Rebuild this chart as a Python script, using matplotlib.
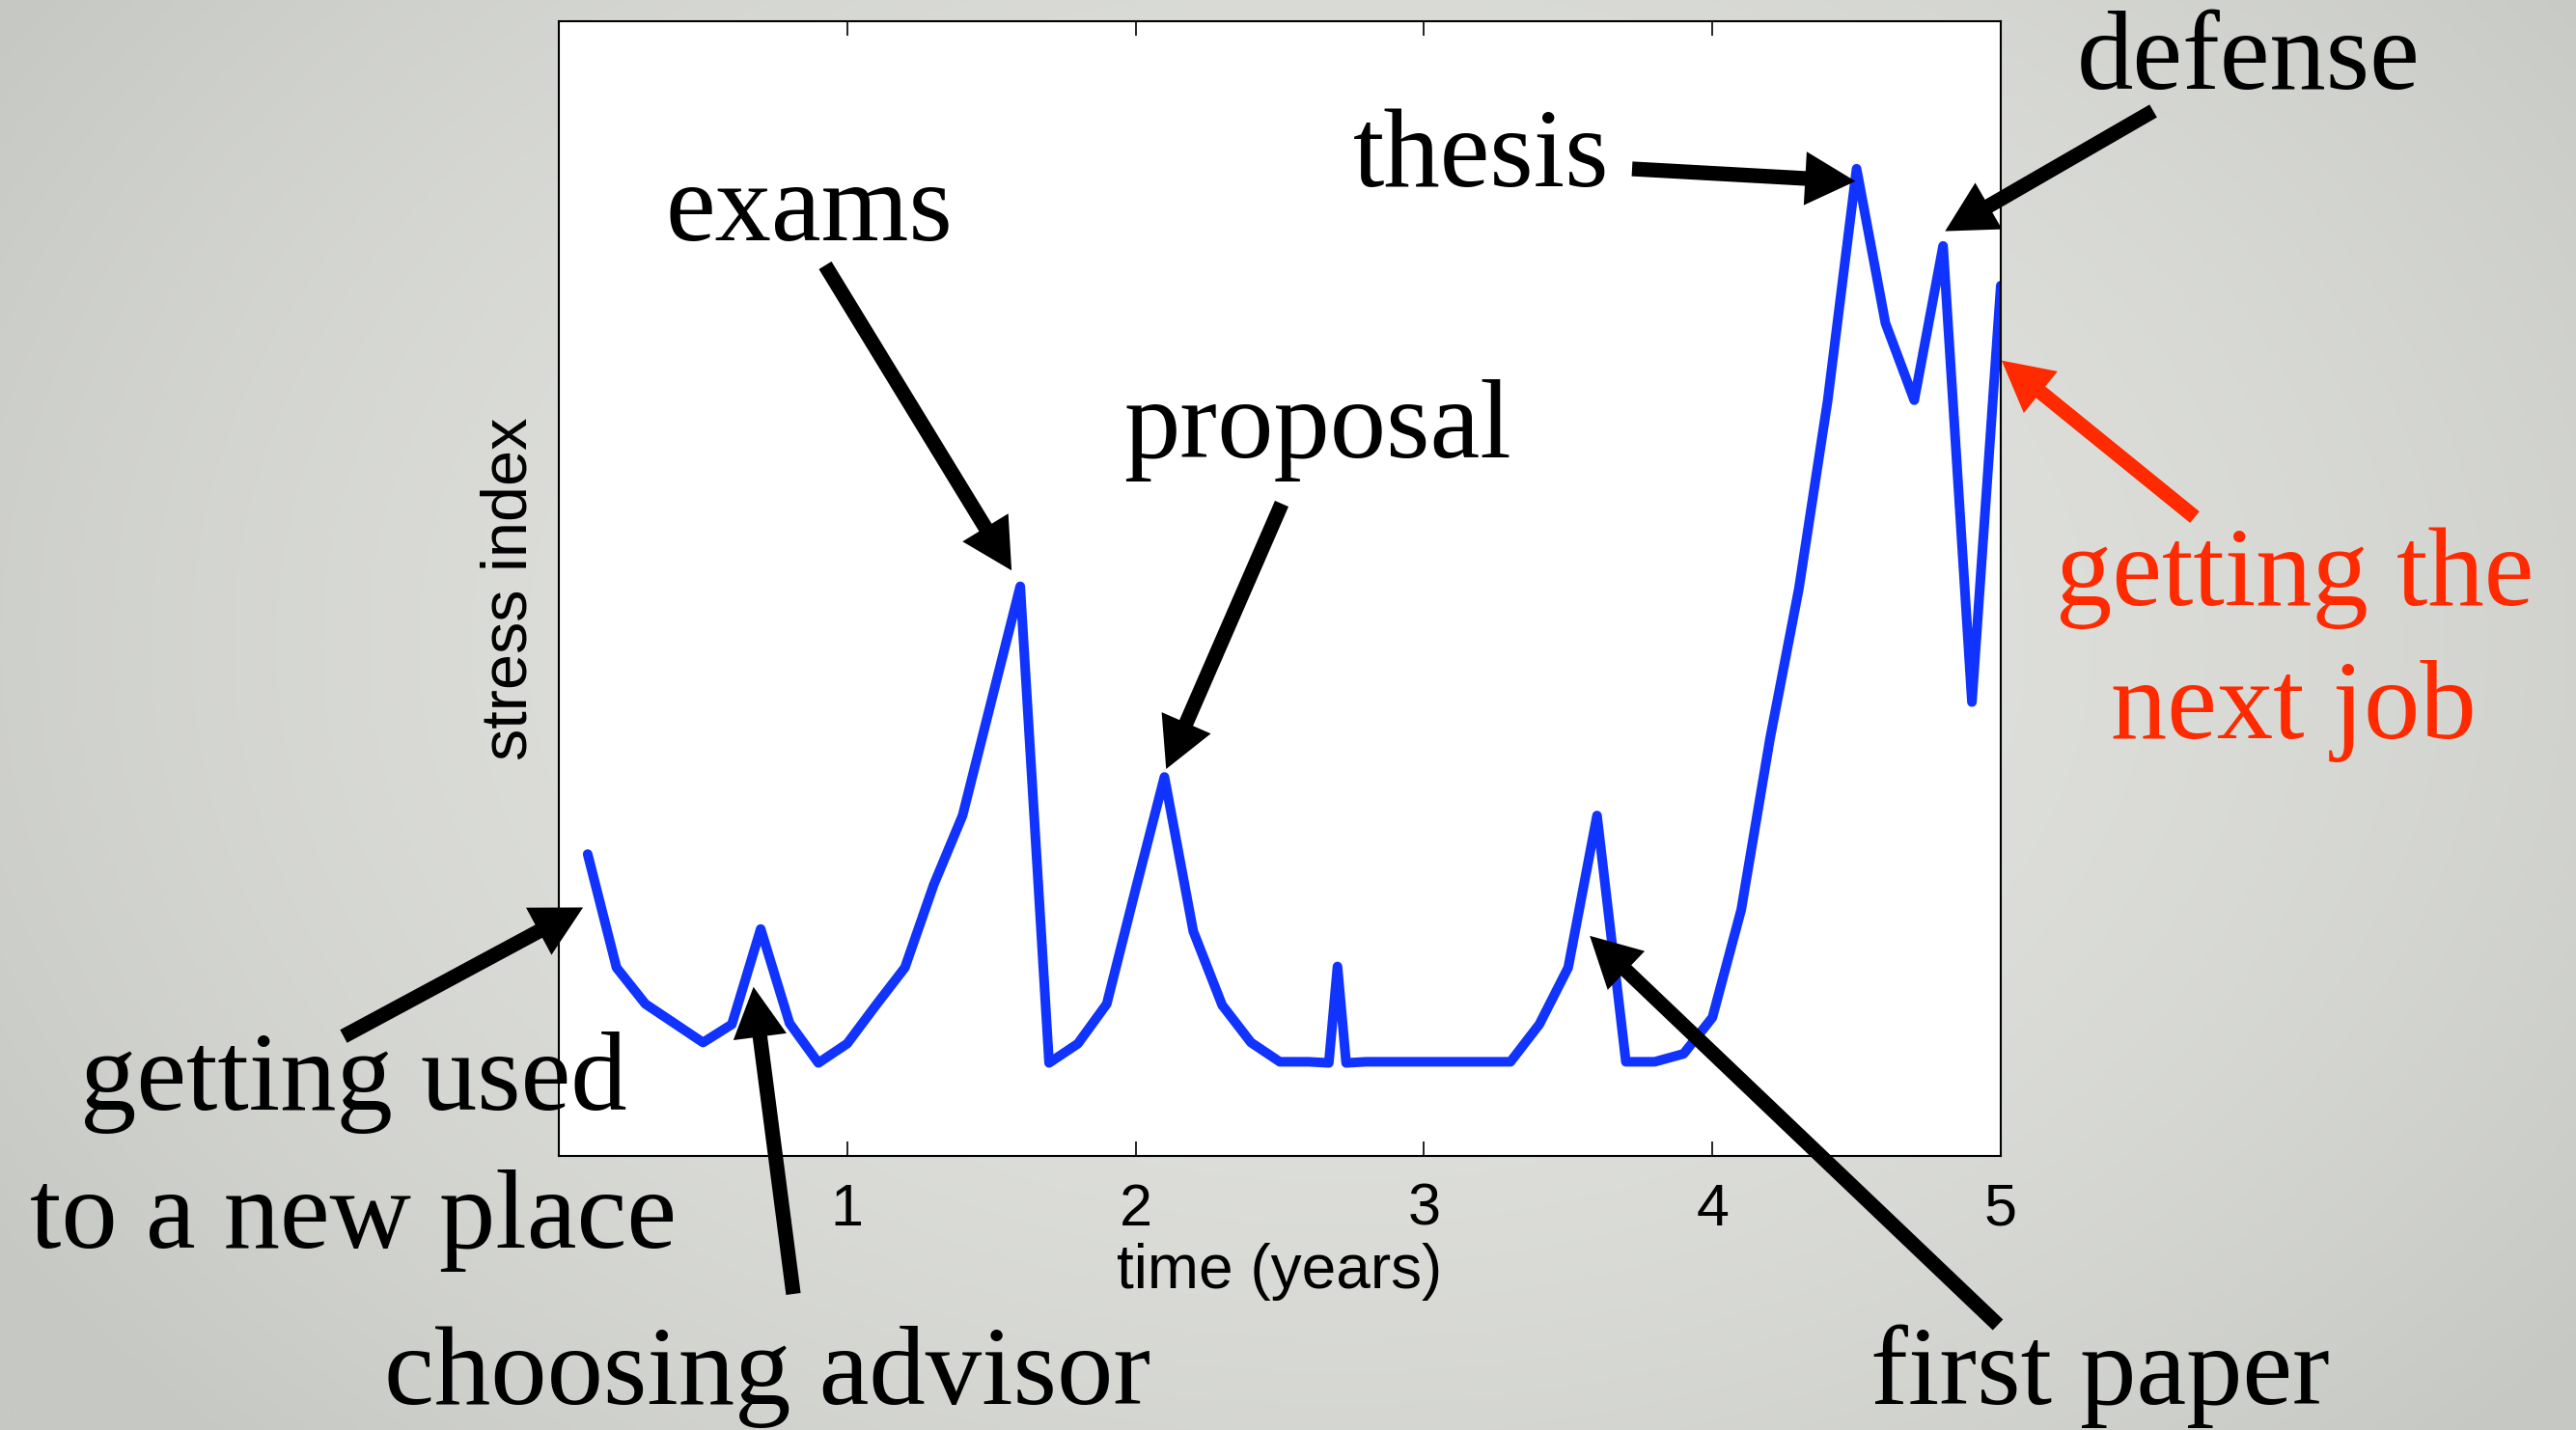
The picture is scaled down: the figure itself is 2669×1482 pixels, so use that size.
import numpy as np
import matplotlib
matplotlib.use('Agg')
import matplotlib.pyplot as plt

# figure size in pixels (dpi 100)
W, H = 2669, 1482

# stress curve
time = [0.1, 0.2, 0.3, 0.4, 0.5, 0.6, 0.7, 0.8, 0.9, 1.0,
        1.1, 1.2, 1.3, 1.4, 1.5, 1.6, 1.7, 1.8, 1.9, 2.0,
        2.1, 2.2, 2.3, 2.4, 2.5, 2.6, 2.67, 2.7, 2.73, 2.8,
        2.9, 3.0, 3.1, 3.2, 3.3, 3.4, 3.5, 3.6, 3.7, 3.8,
        3.9, 4.0, 4.1, 4.2, 4.3, 4.4, 4.5, 4.6, 4.7, 4.8,
        4.9, 5.0]
stress = [2.66, 1.66, 1.34, 1.17, 1.00, 1.16, 2.00, 1.17, 0.82, 0.99,
          1.33, 1.66, 2.39, 3.00, 4.01, 5.02, 0.82, 0.99, 1.34, 2.35,
          3.34, 1.98, 1.33, 1.00, 0.83, 0.83, 0.82, 1.67, 0.82, 0.83,
          0.83, 0.83, 0.83, 0.83, 0.83, 1.16, 1.66, 3.00, 0.83, 0.83,
          0.90, 1.22, 2.17, 3.68, 5.00, 6.66, 8.70, 7.34, 6.66, 8.02,
          4.00, 7.67]

xticks = [1, 2, 3, 4, 5]

# annotation labels, one entry per text line
label_lines = ['getting used', 'to a new place', 'choosing advisor', 'exams',
               'proposal', 'thesis', 'defense', 'getting the', 'next job',
               'first paper']
line_colors = ['black'] * 7 + ['#ff2a00', '#ff2a00', 'black']
# (center x, baseline y) in image pixels
line_pos = [(366, 1150), (366, 1293), (795, 1455), (838, 249), (1365, 474),
            (1535, 193), (2330, 92), (2378, 627), (2376, 765), (2176, 1455)]

# arrow tips in data coords, arrow tails in image pixels
arrow_tips = [(0.084, 2.19), (0.675, 1.49), (1.570, 5.16), (2.106, 3.41),
              (4.496, 8.59), (4.807, 8.15), (5.003, 7.01), (3.575, 1.94)]
arrow_tails = [(356, 1074), (822, 1341), (855, 275), (1328, 522),
               (1691, 175), (2231, 115), (2274, 536), (2070, 1373)]
arrow_colors = ['black'] * 6 + ['#ff2a00', 'black']

fig = plt.figure(figsize=(W / 100, H / 100), dpi=100)

# vignette background
bg = fig.add_axes([0, 0, 1, 1], zorder=-10)
yy, xx = np.mgrid[0:1:300j, 0:1:540j]
r = np.sqrt(((xx - 0.52) / 0.62) ** 2 + ((yy - 0.45) / 0.8) ** 2)
r = np.clip(r, 0, 1) ** 2
inner = np.array([226, 227, 223]) / 255
edge = np.array([198, 200, 195]) / 255
grad = inner[None, None, :] + (edge - inner)[None, None, :] * r[..., None]
bg.imshow(grad, aspect='auto', extent=[0, 1, 0, 1], interpolation='bilinear')
bg.axis('off')

ax = fig.add_axes([579 / W, 1 - 1198 / H, (2073 - 579) / W, (1198 - 22) / H])
ax.plot(time, stress, color='#1133ff', lw=7.2,
        solid_joinstyle='round', solid_capstyle='round')
ax.set_xlim(0, 5)
ax.set_ylim(0, 10)
ax.set_xticks(xticks)
ax.set_yticks([])
for lab in ax.get_xticklabels():
    lab.set_fontfamily('Liberation Sans')
ax.tick_params(axis='x', direction='in', length=10.8, width=1.2, top=True,
               labelsize=44, pad=20)
for s in ax.spines.values():
    s.set_linewidth(1.5)
ax.set_xlabel('time (years)', fontsize=46, family='Liberation Sans', labelpad=4)
ax.set_ylabel('stress index', fontsize=48, family='Liberation Sans', labelpad=14)

# arrows
for tip, tail, col in zip(arrow_tips, arrow_tails, arrow_colors):
    ax.annotate('', xy=tip, xycoords='data',
                xytext=(tail[0], H - tail[1]), textcoords='figure pixels',
                arrowprops=dict(arrowstyle='simple,head_length=0.75,head_width=0.8,tail_width=0.22',
                                fc=col, ec='none', mutation_scale=50,
                                shrinkA=0, shrinkB=0),
                annotation_clip=False)

# labels
for txt, (px, py), col in zip(label_lines, line_pos, line_colors):
    fig.text(px / W, 1 - py / H, txt, ha='center', va='baseline',
             fontsize=84, family='Liberation Serif', color=col)

fig.savefig('out.png', dpi=100)
